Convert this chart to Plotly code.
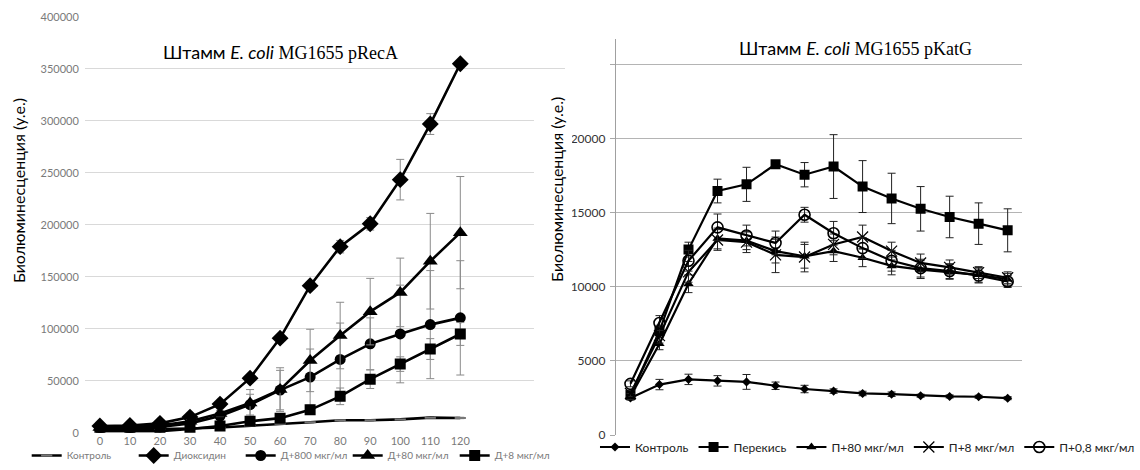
import plotly.graph_objects as go

# ---- pRecA strain: luminescence over time (minutes) ----
time_reca = [0, 10, 20, 30, 40, 50, 60, 70, 80, 90, 100, 110, 120]

reca_control = [2500, 2800, 3200, 4000, 5000, 6500, 8500, 10000, 12000, 12000, 12800, 14500, 14200]
reca_control_err = [200, 200, 200, 300, 300, 400, 500, 500, 600, 600, 600, 700, 700]

reca_dioxidine = [6500, 7000, 9000, 15000, 27500, 52500, 91000, 141500, 179000, 201000, 243500, 297000, 355000]
reca_dioxidine_err = [500, 500, 800, 1500, 2000, 2500, 3000, 3000, 6000, 6000, 19500, 10000, 3000]

reca_d800 = [4000, 4200, 5500, 9000, 16000, 27000, 41000, 53500, 70500, 85500, 95000, 104000, 110500]
reca_d800_err = [500, 500, 800, 1500, 3000, 10000, 19000, 27000, 35000, 25000, 47000, 52000, 55000]

reca_d80 = [5000, 5500, 7000, 11000, 18500, 28500, 41500, 69500, 93500, 116500, 135000, 165000, 192500]
reca_d80_err = [500, 500, 800, 1500, 3000, 13000, 21000, 30000, 32000, 32000, 33000, 46000, 54000]

reca_d8 = [1500, 1500, 1500, 3500, 6500, 11000, 14000, 22000, 35000, 51500, 66000, 80500, 95000]
reca_d8_err = [300, 300, 300, 500, 1000, 1500, 3000, 3000, 8000, 9000, 7000, 10000, 11000]

reca_yticks = [0, 50000, 100000, 150000, 200000, 250000, 300000, 350000, 400000]

# ---- pKatG strain ----
time_katg = [0, 10, 20, 30, 40, 50, 60, 70, 80, 90, 100, 110, 120, 130]

katg_control = [2500, 3400, 3750, 3650, 3580, 3320, 3100, 2960, 2800, 2750, 2650, 2600, 2580, 2480]
katg_control_err = [150, 350, 350, 350, 500, 250, 250, 150, 150, 150, 100, 100, 100, 100]

katg_peroxide = [2700, 7000, 12500, 16450, 16900, 18250, 17550, 18100, 16750, 15950, 15250, 14700, 14250, 13800]
katg_peroxide_err = [200, 400, 500, 800, 1150, 200, 820, 2150, 1750, 1700, 1500, 1400, 1400, 1450]

katg_p80 = [2600, 6150, 10200, 13250, 13100, 12400, 12050, 12400, 11950, 11400, 11150, 11000, 10800, 10500]
katg_p80_err = [200, 400, 600, 700, 600, 800, 800, 700, 600, 600, 600, 500, 500, 400]

katg_p8 = [2800, 6700, 11000, 13150, 13000, 12150, 12000, 12850, 13350, 12400, 11600, 11300, 10950, 10600]
katg_p8_err = [200, 500, 700, 700, 700, 1200, 1000, 700, 800, 600, 600, 500, 400, 400]

katg_p08 = [3450, 7550, 11750, 14000, 13450, 12950, 14850, 13600, 12600, 11750, 11250, 11050, 10750, 10350]
katg_p08_err = [200, 500, 700, 900, 700, 800, 500, 800, 700, 700, 600, 500, 500, 400]

katg_yticks = [0, 5000, 10000, 15000, 20000, 25000]
katg_yticktext = ["0", "5000", "10000", "15000", "20000", ""]

W, H = 1140, 470
def px_x(p):
    return p / W
def px_y(p):
    return 1 - p / H

BODY_FONT = "Lato, 'Noto Sans', sans-serif"
SERIF_FONT = "'Liberation Serif', 'DejaVu Serif', serif"

fig = go.Figure()

def err(vals, color, thick=1, width=4):
    return dict(type="data", array=vals, visible=True, color=color, thickness=thick, width=width)

# left panel traces
left_series = [
    ("Контроль", reca_control, reca_control_err, dict(symbol="line-ew-open", size=8, color="#777",
                                                     line=dict(color="#888", width=2))),
    ("Диоксидин", reca_dioxidine, reca_dioxidine_err, dict(symbol="diamond", size=13, color="black")),
    ("Д+800 мкг/мл", reca_d800, reca_d800_err, dict(symbol="circle", size=11, color="black")),
    ("Д+80 мкг/мл", reca_d80, reca_d80_err, dict(symbol="triangle-up", size=13, color="black")),
    ("Д+8 мкг/мл", reca_d8, reca_d8_err, dict(symbol="square", size=11, color="black")),
]
for name, vals, e, mk in left_series:
    fig.add_trace(go.Scatter(
        x=time_reca, y=vals, name=name, mode="lines+markers",
        line=dict(color="black", width=2.6), marker=mk,
        error_y=err(e, "#8a8a8a"), xaxis="x", yaxis="y", legend="legend",
    ))

# right panel traces
right_series = [
    ("Контроль", katg_control, katg_control_err, dict(symbol="diamond", size=7, color="black")),
    ("Перекись", katg_peroxide, katg_peroxide_err, dict(symbol="square", size=10, color="black")),
    ("П+80 мкг/мл", katg_p80, katg_p80_err, dict(symbol="triangle-up", size=9, color="black")),
    ("П+8 мкг/мл", katg_p8, katg_p8_err, dict(symbol="x-thin-open", size=11, color="black",
                                              line=dict(color="black", width=1.2))),
    ("П+0,8 мкг/мл", katg_p08, katg_p08_err, dict(symbol="circle-open", size=11, color="black",
                                                  line=dict(color="black", width=1.6))),
]
for name, vals, e, mk in right_series:
    fig.add_trace(go.Scatter(
        x=time_katg, y=vals, name=name, mode="lines+markers",
        line=dict(color="black", width=2.2), marker=mk,
        error_y=err(e, "#222", 1, 4), xaxis="x2", yaxis="y2", legend="legend2",
    ))

fig.update_layout(
    width=W, height=H,
    margin=dict(l=0, r=0, t=0, b=0),
    paper_bgcolor="white", plot_bgcolor="white",
    font=dict(family=BODY_FONT, color="#222"),
    xaxis=dict(
        domain=[px_x(89), px_x(593)], range=[-5, 155],
        tickvals=time_reca, ticks="", showgrid=False, zeroline=False, showline=False,
        tickfont=dict(size=11, color="#7a7a7a"), anchor="y", automargin=False,
    ),
    yaxis=dict(
        domain=[px_y(432.7), px_y(17)], range=[0, 400000],
        tickvals=reca_yticks, tickformat="d", ticks="", showgrid=True, gridcolor="#d9d9d9",
        gridwidth=1, zeroline=False, showline=False, tickfont=dict(size=11, color="#7a7a7a"),
        anchor="x", ticklabelstandoff=5, automargin=False,
    ),
    xaxis2=dict(
        domain=[px_x(646), px_x(1072)], range=[-5, 135],
        showticklabels=False, ticks="", showgrid=False, zeroline=False, showline=False,
        anchor="y2", automargin=False,
    ),
    yaxis2=dict(
        domain=[px_y(435), px_y(39)], range=[0, 26700],
        tickvals=katg_yticks, ticktext=katg_yticktext,
        ticks="outside", ticklen=5, tickcolor="#a8a8a8",
        showgrid=True, gridcolor="#b4b4b4", gridwidth=1.2,
        zeroline=False, showline=True, linecolor="#a0a0a0", linewidth=1.2,
        tickfont=dict(size=12, color="#333"), anchor="x2", ticklabelstandoff=2,
        automargin=False,
    ),
    legend=dict(
        orientation="h", x=px_x(28), y=0, xanchor="left", yanchor="bottom",
        font=dict(size=10, color="#7a7a7a"), entrywidth=62, entrywidthmode="pixels",
        bgcolor="rgba(0,0,0,0)", itemwidth=30,
    ),
    legend2=dict(
        orientation="h", x=px_x(624), y=px_y(447), xanchor="left", yanchor="middle",
        font=dict(size=12, color="#222"), bgcolor="rgba(0,0,0,0)", itemwidth=30,
    ),
    showlegend=True,
)

# white panel area of the right chart covering the tail of the left gridlines
fig.add_shape(type="rect", xref="paper", yref="paper",
              x0=px_x(560), x1=px_x(600), y0=0, y1=px_y(77),
              fillcolor="white", line=dict(width=0), layer="above")

title_tpl = ("Штамм <i>E. coli</i> "
             "<span style=\"font-family:" + SERIF_FONT.replace('"', "'") + "\">{}</span>")
fig.add_annotation(text=title_tpl.format("MG1655 pRecA"), xref="paper", yref="paper",
                   x=px_x(294), y=px_y(52), xanchor="center", yanchor="middle", showarrow=False,
                   font=dict(size=18, color="black", family=BODY_FONT))
fig.add_annotation(text=title_tpl.format("MG1655 pKatG"), xref="paper", yref="paper",
                   x=px_x(897), y=px_y(48), xanchor="center", yanchor="middle", showarrow=False,
                   font=dict(size=18, color="black", family=BODY_FONT))

ytitle = "Биолюминесценция (у.е.)"
fig.add_annotation(text=ytitle, xref="paper", yref="paper", x=px_x(19), y=px_y(191),
                   xanchor="center", yanchor="middle",
                   textangle=-90, showarrow=False, font=dict(size=16, color="black"))
fig.add_annotation(text=ytitle, xref="paper", yref="paper", x=px_x(583), y=px_y(189),
                   xanchor="center", yanchor="middle",
                   textangle=-90, showarrow=False, font=dict(size=16, color="black"))

fig.write_html("out.html")
